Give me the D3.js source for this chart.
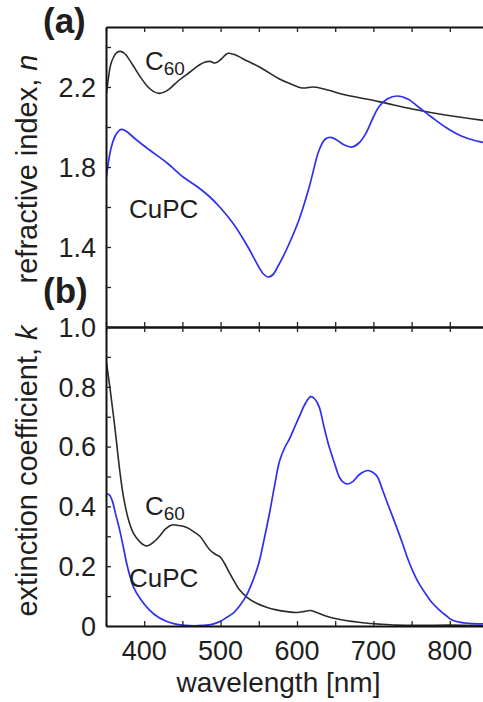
<!DOCTYPE html>
<html>
<head>
<meta charset="utf-8">
<script src="https://cdn.jsdelivr.net/npm/d3@7"></script>
<style>
  html, body { margin: 0; padding: 0; background: #fff; }
  svg { display: block; }
  text { font-family: "Liberation Sans", Arial, Helvetica, sans-serif; fill: #1e1e1e; }
</style>
</head>
<body>
<script>
// Optical constants of C60 and CuPC thin films versus wavelength.

// refractive index n, C60  [wavelength nm, n]
const nC60 = [
  [350, 2.15], [353, 2.24], [356, 2.31], [360, 2.35], [364, 2.372], [369, 2.378],
  [375, 2.365], [385, 2.31], [395, 2.25], [405, 2.20], [412, 2.178], [420, 2.168],
  [430, 2.182], [446, 2.235], [460, 2.275], [472, 2.31], [480, 2.325], [486, 2.328],
  [493, 2.32], [501, 2.34], [509, 2.368], [518, 2.362], [535, 2.33], [551, 2.30],
  [577, 2.24], [592, 2.215], [607, 2.195], [622, 2.20], [640, 2.185], [664, 2.16],
  [707, 2.127], [751, 2.09], [794, 2.06], [850, 2.03]
];

// refractive index n, CuPC
const nCuPC = [
  [350, 1.735], [353, 1.82], [357, 1.90], [362, 1.955], [367, 1.982], [371, 1.988],
  [376, 1.98], [390, 1.935], [407, 1.885], [430, 1.82], [451, 1.75], [470, 1.70],
  [486, 1.65], [500, 1.595], [516, 1.52], [528, 1.45], [538, 1.385], [550, 1.30],
  [556, 1.265], [562, 1.25], [568, 1.26], [576, 1.31], [586, 1.385], [603, 1.54],
  [616, 1.70], [629, 1.885], [637, 1.94], [644, 1.948], [652, 1.935], [662, 1.91],
  [672, 1.90], [681, 1.92], [690, 1.967], [700, 2.05], [707, 2.10], [718, 2.14],
  [731, 2.155], [745, 2.14], [759, 2.10], [776, 2.05], [794, 2.00], [815, 1.955],
  [835, 1.93], [850, 1.92]
];

// extinction coefficient k, C60
const kC60 = [
  [350, 0.89], [355, 0.80], [362, 0.655], [368, 0.52], [373, 0.43], [380, 0.35],
  [386, 0.31], [395, 0.28], [403, 0.268], [412, 0.28], [420, 0.30], [428, 0.325],
  [436, 0.338], [445, 0.336], [455, 0.33], [465, 0.315], [473, 0.30], [480, 0.275],
  [486, 0.254], [493, 0.24], [499, 0.232], [505, 0.21], [512, 0.176], [520, 0.14],
  [525, 0.12], [535, 0.095], [547, 0.076], [560, 0.063], [573, 0.054], [587, 0.048],
  [600, 0.045], [610, 0.049], [617, 0.052], [625, 0.046], [642, 0.03], [660, 0.02],
  [686, 0.011], [710, 0.006], [730, 0.003], [760, 0.002], [800, 0.003], [850, 0.001]
];

// extinction coefficient k, CuPC
const kCuPC = [
  [350, 0.44], [354, 0.44], [358, 0.42], [363, 0.37], [368, 0.32], [373, 0.26],
  [377, 0.21], [381, 0.17], [386, 0.13], [395, 0.09], [407, 0.053], [418, 0.03],
  [429, 0.016], [440, 0.007], [450, 0.003], [470, 0.001], [485, 0.004], [492, 0.008],
  [499, 0.015], [507, 0.027], [516, 0.042], [525, 0.068], [533, 0.098], [542, 0.15],
  [550, 0.21], [557, 0.29], [564, 0.377], [570, 0.46], [577, 0.55], [584, 0.597],
  [590, 0.625], [596, 0.66], [603, 0.70], [610, 0.74], [618, 0.767], [623, 0.76],
  [629, 0.733], [635, 0.67], [642, 0.60], [649, 0.545], [655, 0.50], [660, 0.482],
  [666, 0.475], [673, 0.483], [681, 0.505], [687, 0.515], [693, 0.52], [699, 0.514],
  [705, 0.50], [712, 0.455], [720, 0.40], [729, 0.34], [738, 0.277], [745, 0.225],
  [751, 0.187], [759, 0.145], [768, 0.109], [776, 0.08], [786, 0.054], [795, 0.035],
  [803, 0.02], [814, 0.012], [825, 0.009], [850, 0.007]
];

// ticks and labels
const xTicks = [350, 400, 450, 500, 550, 600, 650, 700, 750, 800, 850];
const xLabels = [400, 500, 600, 700, 800];
const nTicks = [1.0, 1.2, 1.4, 1.6, 1.8, 2.0, 2.2, 2.4];
const nLabels = [1.0, 1.4, 1.8, 2.2];
const kTicks = [0, 0.1, 0.2, 0.3, 0.4, 0.5, 0.6, 0.7, 0.8, 0.9, 1.0];
const kLabels = [0, 0.2, 0.4, 0.6, 0.8];

const W = 483, H = 702;
const plotL = 106, plotR = 488, plotT = 27, plotMid = 327, plotB = 626;

const svg = d3.select("body").append("svg")
  .attr("width", W).attr("height", H)
  .attr("viewBox", `0 0 ${W} ${H}`);

svg.append("rect").attr("width", W).attr("height", H).attr("fill", "#fff");

const x = d3.scaleLinear().domain([350, 850]).range([plotL, plotR]);
const yN = d3.scaleLinear().domain([1.0, 2.5]).range([plotMid, plotT]);
const yK = d3.scaleLinear().domain([0, 1.0]).range([plotB, plotMid]);

const defs = svg.append("defs");
defs.append("clipPath").attr("id", "clipA").append("rect")
  .attr("x", plotL).attr("y", plotT).attr("width", plotR - plotL).attr("height", plotMid - plotT);
defs.append("clipPath").attr("id", "clipB").append("rect")
  .attr("x", plotL).attr("y", plotMid).attr("width", plotR - plotL).attr("height", plotB - plotMid);

const curve = d3.curveCatmullRom.alpha(0.5);
const lineN = d3.line().x(d => x(d[0])).y(d => yN(d[1])).curve(curve);
const lineK = d3.line().x(d => x(d[0])).y(d => yK(d[1])).curve(curve);

const black = "#2a2a2a", blue = "#2f2ff2";

const gA = svg.append("g").attr("clip-path", "url(#clipA)");
gA.append("path").datum(nC60).attr("d", lineN)
  .attr("fill", "none").attr("stroke", black).attr("stroke-width", 1.6);
gA.append("path").datum(nCuPC).attr("d", lineN)
  .attr("fill", "none").attr("stroke", blue).attr("stroke-width", 1.7);

const gB = svg.append("g").attr("clip-path", "url(#clipB)");
gB.append("path").datum(kC60).attr("d", lineK)
  .attr("fill", "none").attr("stroke", black).attr("stroke-width", 1.6);
gB.append("path").datum(kCuPC).attr("d", lineK)
  .attr("fill", "none").attr("stroke", blue).attr("stroke-width", 1.7);

// axes: inward ticks on every side of both panels
function styleAxis(g) {
  g.selectAll("path.domain").attr("stroke", "#111").attr("stroke-width", 2);
  g.selectAll(".tick line").attr("stroke", "#222").attr("stroke-width", 1.3);
}
const noLabel = () => "";

svg.append("g").attr("transform", `translate(0,${plotT})`)
  .call(d3.axisTop(x).tickValues(xTicks).tickSizeInner(-5).tickSizeOuter(0).tickFormat(noLabel))
  .call(styleAxis);
svg.append("g").attr("transform", `translate(0,${plotMid})`)
  .call(d3.axisTop(x).tickValues(xTicks).tickSizeInner(5).tickSizeOuter(0).tickFormat(noLabel))
  .call(styleAxis);
svg.append("g").attr("transform", `translate(0,${plotMid})`)
  .call(d3.axisBottom(x).tickValues(xTicks).tickSizeInner(5).tickSizeOuter(0).tickFormat(noLabel))
  .call(styleAxis);
svg.append("g").attr("transform", `translate(0,${plotB})`)
  .call(d3.axisBottom(x).tickValues(xTicks).tickSizeInner(-5).tickSizeOuter(0).tickFormat(noLabel))
  .call(styleAxis);

svg.append("g").attr("transform", `translate(${plotL},0)`)
  .call(d3.axisLeft(yN).tickValues(nTicks).tickSizeInner(-5).tickSizeOuter(0).tickFormat(noLabel))
  .call(styleAxis);
svg.append("g").attr("transform", `translate(${plotL},0)`)
  .call(d3.axisLeft(yK).tickValues(kTicks).tickSizeInner(-5).tickSizeOuter(0).tickFormat(noLabel))
  .call(styleAxis);
svg.append("g").attr("transform", `translate(${plotR},0)`)
  .call(d3.axisRight(yN).tickValues(nTicks).tickSizeInner(-5).tickSizeOuter(0).tickFormat(noLabel))
  .call(styleAxis);
svg.append("g").attr("transform", `translate(${plotR},0)`)
  .call(d3.axisRight(yK).tickValues(kTicks).tickSizeInner(-5).tickSizeOuter(0).tickFormat(noLabel))
  .call(styleAxis);

// tick labels
const tickFont = 27;
svg.append("g").selectAll("text").data(xLabels).join("text")
  .attr("x", d => x(d)).attr("y", 660)
  .attr("text-anchor", "middle").attr("font-size", tickFont)
  .text(d => d3.format("d")(d));

svg.append("g").selectAll("text").data(nLabels).join("text")
  .attr("x", 96).attr("y", d => yN(d)).attr("dy", "0.36em")
  .attr("text-anchor", "end").attr("font-size", tickFont)
  .text(d => d3.format(".1f")(d));

svg.append("g").selectAll("text").data(kLabels).join("text")
  .attr("x", 96).attr("y", d => yK(d)).attr("dy", "0.36em")
  .attr("text-anchor", "end").attr("font-size", tickFont)
  .text(d => d === 0 ? "0" : d3.format(".1f")(d));

// axis titles
svg.append("text").attr("x", 278.5).attr("y", 692)
  .attr("text-anchor", "middle").attr("font-size", 28)
  .text("wavelength [nm]");

const tA = svg.append("text")
  .attr("transform", "translate(37,169) rotate(-90)")
  .attr("text-anchor", "middle").attr("font-size", 29);
tA.append("tspan").text("refractive index, ");
tA.append("tspan").attr("font-style", "italic").text("n");

const tB = svg.append("text")
  .attr("transform", "translate(37,471) rotate(-90)")
  .attr("text-anchor", "middle").attr("font-size", 29);
tB.append("tspan").text("extinction coefficient, ");
tB.append("tspan").attr("font-style", "italic").text("k");

// panel letters
svg.append("text").attr("x", 43).attr("y", 33)
  .attr("font-size", 35).attr("font-weight", "bold").text("(a)");
svg.append("text").attr("x", 43).attr("y", 303)
  .attr("font-size", 35).attr("font-weight", "bold").text("(b)");

// curve labels
function c60Label(xp, yp) {
  const t = svg.append("text").attr("x", xp).attr("y", yp).attr("font-size", 26);
  t.append("tspan").text("C");
  t.append("tspan").attr("font-size", 19).attr("dy", 5).text("60");
}
c60Label(145, 70);
c60Label(145, 515);
svg.append("text").attr("x", 129).attr("y", 218).attr("font-size", 26).text("CuPC");
svg.append("text").attr("x", 129).attr("y", 587).attr("font-size", 26).text("CuPC");
</script>
</body>
</html>
